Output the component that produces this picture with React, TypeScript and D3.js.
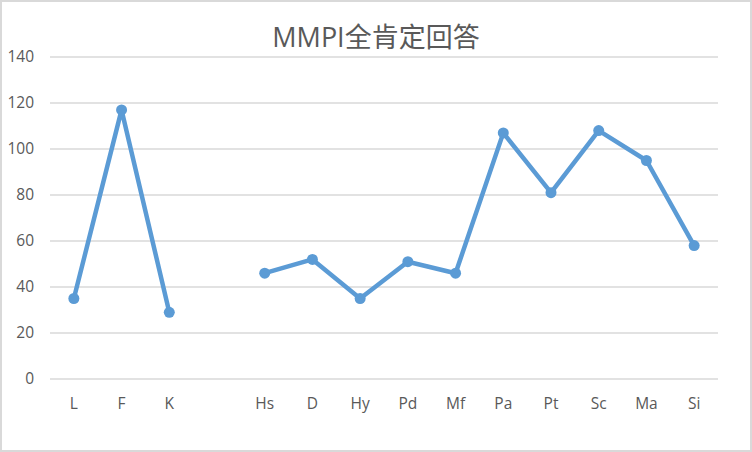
import { useEffect, useRef } from 'react'
import * as d3 from 'd3'

const categories = ['L', 'F', 'K', '', 'Hs', 'D', 'Hy', 'Pd', 'Mf', 'Pa', 'Pt', 'Sc', 'Ma', 'Si']
const values: (number | null)[] = [35, 117, 29, null, 46, 52, 35, 51, 46, 107, 81, 108, 95, 58]
const yTicks = [0, 20, 40, 60, 80, 100, 120, 140]
const title = 'MMPI全肯定回答'

const App = () => {
    const ref = useRef<SVGSVGElement | null>(null)

    useEffect(() => {
        const width = 752
        const height = 452
        const margin = { top: 57, right: 34, bottom: 73, left: 50 }
        const font = '"Open Sans", "Noto Sans CJK SC", sans-serif'

        const svg = d3.select(ref.current)
        svg.selectAll('*').remove()

        svg.append('rect')
            .attr('x', 1)
            .attr('y', 1)
            .attr('width', width - 2)
            .attr('height', height - 2)
            .attr('fill', '#fff')
            .attr('stroke', '#d9d9d9')
            .attr('stroke-width', 2)

        const x = d3
            .scaleBand()
            .domain(categories.map((c, i) => i + ''))
            .range([margin.left, width - margin.right])

        const y = d3
            .scaleLinear()
            .domain([0, 140])
            .range([height - margin.bottom, margin.top])

        // gridlines
        svg.append('g')
            .selectAll()
            .data(yTicks)
            .join('line')
            .attr('x1', margin.left)
            .attr('x2', width - margin.right)
            .attr('y1', (d) => y(d))
            .attr('y2', (d) => y(d))
            .attr('stroke', '#d9d9d9')
            .attr('stroke-width', 1.5)

        // y labels
        svg.append('g')
            .selectAll()
            .data(yTicks)
            .join('text')
            .attr('x', 34)
            .attr('y', (d) => y(d))
            .attr('dy', '0.35em')
            .attr('text-anchor', 'end')
            .attr('fill', '#595959')
            .attr('font-family', font)
            .attr('font-size', 15.5)
            .text((d) => d)

        // x labels
        svg.append('g')
            .selectAll()
            .data(categories)
            .join('text')
            .attr('x', (d, i) => (x(i + '') as number) + x.bandwidth() / 2)
            .attr('y', 404)
            .attr('dy', '0.35em')
            .attr('text-anchor', 'middle')
            .attr('fill', '#595959')
            .attr('font-family', font)
            .attr('font-size', 15.5)
            .text((d) => d)

        const cx = (i: number) => (x(i + '') as number) + x.bandwidth() / 2

        const line = d3
            .line<number | null>()
            .defined((d) => d != null)
            .x((d, i) => cx(i))
            .y((d) => y(d as number))

        svg.append('path')
            .datum(values)
            .attr('d', line)
            .attr('fill', 'none')
            .attr('stroke', '#5b9bd5')
            .attr('stroke-width', 4.5)
            .attr('stroke-linejoin', 'round')

        svg.append('g')
            .selectAll()
            .data(values.map((v, i) => ({ v, i })).filter((d) => d.v != null))
            .join('circle')
            .attr('cx', (d) => cx(d.i))
            .attr('cy', (d) => y(d.v as number))
            .attr('r', 5.5)
            .attr('fill', '#5b9bd5')

        svg.append('text')
            .attr('x', width / 2)
            .attr('y', 38)
            .attr('dy', '0.35em')
            .attr('text-anchor', 'middle')
            .attr('fill', '#595959')
            .attr('font-family', font)
            .attr('font-size', 27)
            .text(title)
    }, [])

    return (
        <svg
            ref={ref}
            width={752}
            height={452}
            style={{ position: 'fixed', left: 0, top: 0, display: 'block' }}
        />
    )
}

export default App
